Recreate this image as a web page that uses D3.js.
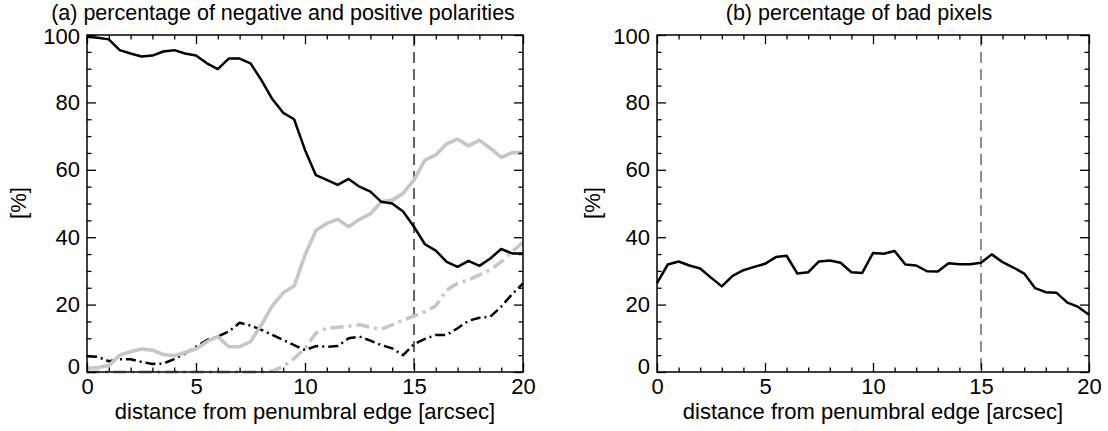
<!DOCTYPE html>
<html>
<head>
<meta charset="utf-8">
<script src="https://cdn.jsdelivr.net/npm/d3@7"></script>
<style>
    body { margin: 0; background: #fff; }
    svg text { font-family: "Liberation Sans", Arial, Helvetica, sans-serif; fill: #000; }
</style>
</head>
<body>
<div id="chart"></div>
<script>

// distance from penumbral edge [arcsec], sampled every 0.5
const distance = [0, 0.5, 1, 1.5, 2, 2.5, 3, 3.5, 4, 4.5, 5, 5.5, 6, 6.5, 7, 7.5, 8, 8.5, 9, 9.5, 10,
    10.5, 11, 11.5, 12, 12.5, 13, 13.5, 14, 14.5, 15, 15.5, 16, 16.5, 17, 17.5, 18, 18.5, 19, 19.5, 20];

// panel (a): black solid
const negSolid = [99.5, 99.2, 98.7, 95.5, 94.5, 93.6, 93.9, 95.1, 95.5, 94.5, 93.9, 91.6, 89.9, 93.0, 93.0, 91.6,
    86.6, 81.0, 76.9, 75.0, 65.9, 58.4, 57.0, 55.5, 57.3, 55.0, 53.5, 50.5, 50.0, 47.6, 43.1, 37.9, 36.0, 32.7,
    31.2, 33.0, 31.5, 33.7, 36.5, 35.2, 35.2];
// panel (a): grey solid
const posSolid = [1.1, 1.3, 1.9, 5.0, 6.0, 6.8, 6.5, 5.2, 4.8, 5.8, 6.8, 9.0, 10.5, 7.5, 7.5, 9.0, 14.0, 19.6,
    23.5, 25.5, 34.7, 42.0, 44.1, 45.3, 43.1, 45.3, 46.9, 50.5, 51.0, 53.0, 57.0, 62.9, 64.4, 67.7, 69.1, 67.1,
    68.8, 66.4, 63.7, 65.1, 65.1];
// panel (a): black dash-dot
const negDashDot = [4.7, 4.5, 3.2, 3.8, 3.8, 3.0, 2.4, 2.5, 3.8, 5.5, 7.5, 9.5, 10.5, 12.0, 14.6, 13.8, 12.5,
    11.0, 9.5, 8.0, 6.5, 7.7, 7.5, 7.7, 10.0, 10.5, 9.3, 8.0, 7.0, 5.0, 8.3, 9.8, 11.0, 11.0, 13.0, 15.2, 16.1,
    16.4, 19.4, 23.1, 26.3];
// panel (a): grey dash-dot
const posDashDot = [0, 0, 0, 0, 0, 0, 0, 0, 0, 0, 0, 0, 0, 0, 0, 0, 0, 0.3, 1.6, 4.0, 7.0, 11.5, 13.0, 13.3,
    13.6, 14.0, 13.3, 12.7, 14.0, 15.4, 16.6, 17.9, 19.6, 24.3, 26.3, 27.3, 28.8, 30.3, 32.7, 35.7, 38.5];

// panel (b): bad pixels
const badPixels = [26.4, 31.9, 32.8, 31.6, 30.7, 28.0, 25.4, 28.5, 30.2, 31.2, 32.1, 34.1, 34.5, 29.2, 29.6,
    32.8, 33.1, 32.4, 29.6, 29.4, 35.3, 35.1, 35.9, 31.9, 31.6, 29.9, 29.8, 32.3, 32.0, 32.0, 32.4, 34.9, 32.6,
    31.0, 29.2, 24.9, 23.7, 23.5, 20.6, 19.3, 17.0];

const xTicks = [0, 5, 10, 15, 20];
const yTicks = [0, 20, 40, 60, 80, 100];
const boundary = 15;

const titleA = "(a) percentage of negative and positive polarities";
const titleB = "(b) percentage of bad pixels";
const xLabel = "distance from penumbral edge [arcsec]";
const yLabel = "[%]";

const GREY = "#c6c6c6";


class PanelChart {

    constructor(svg, config) {
        this.svg = svg;
        this.config = config;
        this.initVis();
    }

    initVis() {
        let vis = this;
        let c = vis.config;

        vis.width = c.x1 - c.x0;
        vis.height = c.y1 - c.y0;

        vis.g = vis.svg.append("g")
            .attr("transform", "translate(" + c.x0 + "," + c.y0 + ")");

        // scales
        vis.x = d3.scaleLinear().domain([0, 20]).range([0, vis.width]);
        vis.y = d3.scaleLinear().domain([0, 100]).range([vis.height, 0]);

        vis.updateVis();
    }

    drawTicks() {
        let vis = this;

        // minor ticks first (no labels), all four sides, pointing inwards
        let xMinor = d3.range(0, 21, 1).filter(d => !xTicks.includes(d));
        let yMinor = d3.range(0, 101, 5).filter(d => !yTicks.includes(d));

        vis.g.append("g").attr("class", "minor")
            .attr("transform", "translate(0," + vis.height + ")")
            .call(d3.axisBottom(vis.x).tickValues(xMinor).tickSize(-4.5).tickFormat(""));
        vis.g.append("g").attr("class", "minor")
            .call(d3.axisTop(vis.x).tickValues(xMinor).tickSize(-4.5).tickFormat(""));
        vis.g.append("g").attr("class", "minor")
            .call(d3.axisLeft(vis.y).tickValues(yMinor).tickSize(-4.5).tickFormat(""));
        vis.g.append("g").attr("class", "minor")
            .attr("transform", "translate(" + vis.width + ",0)")
            .call(d3.axisRight(vis.y).tickValues(yMinor).tickSize(-4.5).tickFormat(""));

        // major ticks
        vis.g.append("g").attr("class", "x-axis")
            .attr("transform", "translate(0," + vis.height + ")")
            .call(d3.axisBottom(vis.x).tickValues(xTicks).tickSize(-9).tickPadding(6));
        vis.g.append("g")
            .call(d3.axisTop(vis.x).tickValues(xTicks).tickSize(-9).tickFormat(""));
        vis.g.append("g").attr("class", "y-axis")
            .call(d3.axisLeft(vis.y).tickValues(yTicks).tickSize(-9).tickPadding(7));
        vis.g.append("g")
            .attr("transform", "translate(" + vis.width + ",0)")
            .call(d3.axisRight(vis.y).tickValues(yTicks).tickSize(-9).tickFormat(""));

        vis.g.selectAll(".domain").remove();
        vis.g.selectAll(".tick line").attr("stroke", "#000").attr("stroke-width", 1.3);
        vis.g.selectAll(".tick text")
            .attr("font-size", "22px")
            .attr("font-family", "Liberation Sans, Arial, sans-serif")
            .attr("fill", "#000");

        // the "0" label sits a bit higher than its tick, like the original
        vis.g.selectAll(".y-axis .tick text").filter(d => d === 0).attr("dy", "0.08em");
        // nudge "100" down a touch so it clears the title
        vis.g.selectAll(".y-axis .tick text").filter(d => d === 100).attr("dy", "0.4em");
    }

    updateVis() {
        let vis = this;
        let c = vis.config;

        // dashed line at the boundary
        vis.g.append("line")
            .attr("x1", vis.x(boundary)).attr("x2", vis.x(boundary))
            .attr("y1", 0).attr("y2", vis.height)
            .attr("stroke", c.dashColor)
            .attr("stroke-width", 1.2)
            .attr("stroke-dasharray", "11,6");

        let line = d3.line()
            .x((d, i) => vis.x(distance[i]))
            .y(d => vis.y(d));

        c.series.forEach(function (s) {
            vis.g.append("path")
                .datum(s.values)
                .attr("d", line)
                .attr("fill", "none")
                .attr("stroke", s.color)
                .attr("stroke-width", s.width)
                .attr("stroke-linejoin", "round")
                .attr("stroke-dasharray", s.dash || null);
        });

        vis.drawTicks();

        // frame
        vis.g.append("rect")
            .attr("width", vis.width)
            .attr("height", vis.height)
            .attr("fill", "none")
            .attr("stroke", "#000")
            .attr("stroke-width", 1.5);

        // title + axis labels
        vis.svg.append("text")
            .attr("x", c.titleX)
            .attr("y", 20)
            .attr("text-anchor", "middle")
            .attr("font-size", "21.5px")
            .text(c.title);

        vis.svg.append("text")
            .attr("x", (c.x0 + c.x1) / 2)
            .attr("y", 419)
            .attr("text-anchor", "middle")
            .attr("font-size", "22px")
            .text(xLabel);

        vis.svg.append("text")
            .attr("transform", "translate(" + c.yLabelX + ",203) rotate(-90)")
            .attr("text-anchor", "middle")
            .attr("dy", "0.35em")
            .attr("font-size", "22px")
            .text(yLabel);
    }
}


let svg = d3.select("#chart").append("svg")
    .attr("width", 1108)
    .attr("height", 431);

new PanelChart(svg, {
    x0: 87, x1: 523, y0: 35, y1: 372,
    title: titleA, titleX: 283, yLabelX: 18,
    dashColor: "#000",
    series: [
        {values: posDashDot, color: GREY, width: 3.6, dash: "13,5,3,5"},
        {values: negDashDot, color: "#000", width: 2.5, dash: "10,4,2,4"},
        {values: posSolid, color: GREY, width: 3.6},
        {values: negSolid, color: "#000", width: 2.5}
    ]
});

new PanelChart(svg, {
    x0: 657, x1: 1089, y0: 35, y1: 372,
    title: titleB, titleX: 859, yLabelX: 592,
    dashColor: "#444",
    series: [
        {values: badPixels, color: "#000", width: 2.5}
    ]
});

</script>
</body>
</html>
